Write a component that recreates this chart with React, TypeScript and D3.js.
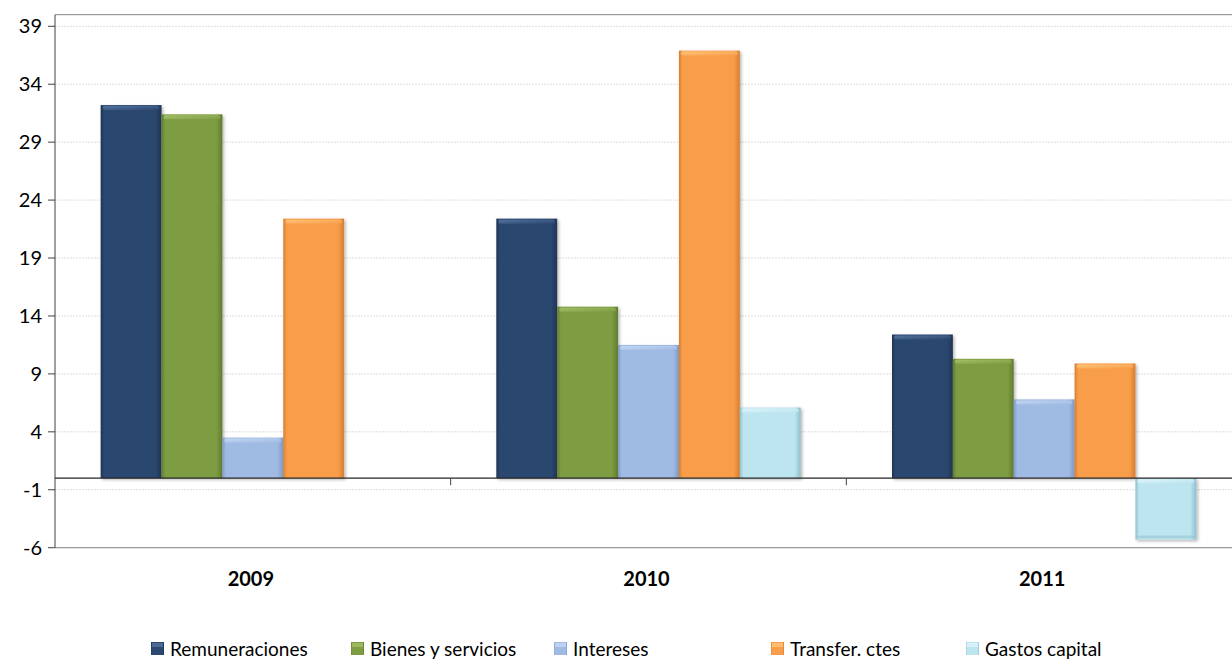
import * as d3 from "d3";
import React from "react";

const years = ["2009", "2010", "2011"];
const seriesNames = ["Remuneraciones", "Bienes y servicios", "Intereses", "Transfer. ctes", "Gastos capital"];
const remuneraciones = [32.2, 22.4, 12.4];
const bienes = [31.4, 14.8, 10.3];
const intereses = [3.5, 11.5, 6.8];
const transfer = [22.4, 36.9, 9.9];
const gastosCapital = [0, 6.1, -5.3];
const yTicks = [-6, -1, 4, 9, 14, 19, 24, 29, 34, 39];

const colors = ["#2C4770", "#7E9C42", "#A0BBE3", "#F89D4A", "#BCE5F0"];
const darks = ["#1F3553", "#627B30", "#7F9AC4", "#D67E30", "#8FBFCB"];
const lights = ["#5A7BA6", "#A9C66E", "#C9DBF5", "#FFCB80", "#E4F7FC"];

const W = 1232;
const H = 660;
const margin = { left: 55, top: 14.7, right: -10, bottom: 112.3 };

const App = () => {
  const allSeries = [remuneraciones, bienes, intereses, transfer, gastosCapital];
  const plotRight = W - margin.right;
  const plotBottom = H - margin.bottom;

  const y = d3.scaleLinear().domain([-6, 40]).range([plotBottom, margin.top]);
  const x0 = d3.scaleBand().domain(years).range([margin.left, plotRight]).paddingInner(0).paddingOuter(0);
  const groupW = (x0.bandwidth() * 5) / 6.5;
  const x1 = d3
    .scaleBand()
    .domain(seriesNames)
    .range([0, groupW]);
  const font = "Lato, 'Open Sans', sans-serif";

  const legendX = [151, 351, 554, 771, 966];

  return (
    <svg width={W} height={H} style={{ position: "absolute", left: 0, top: 0 }} fontFamily={font}>
      <defs>
        {colors.map((c, i) => (
          <linearGradient key={i} id={`g${i}`} x1="0" x2="1" y1="0" y2="0">
            <stop offset="0%" stopColor={darks[i]} />
            <stop offset="6%" stopColor={c} />
            <stop offset="90%" stopColor={c} />
            <stop offset="100%" stopColor={darks[i]} />
          </linearGradient>
        ))}
        {colors.map((c, i) => (
          <linearGradient key={"l" + i} id={`lg${i}`} x1="0" x2="1" y1="0" y2="1">
            <stop offset="0%" stopColor={lights[i]} />
            <stop offset="100%" stopColor={c} />
          </linearGradient>
        ))}
        <filter id="shadow" x="-10%" y="-10%" width="130%" height="130%">
          <feDropShadow dx="1.5" dy="1.5" stdDeviation="1.5" floodColor="#000" floodOpacity="0.3" />
        </filter>
      </defs>

      {/* gridlines */}
      {yTicks.map((t) => (
        <line
          key={t}
          x1={margin.left}
          x2={plotRight}
          y1={y(t)}
          y2={y(t)}
          stroke="#DDDDDD"
          strokeDasharray="2,1"
          strokeWidth={1}
        />
      ))}

      {/* plot border */}
      <line x1={margin.left} x2={plotRight} y1={margin.top} y2={margin.top} stroke="#868686" />
      <line x1={margin.left} x2={plotRight} y1={plotBottom} y2={plotBottom} stroke="#868686" />
      <line x1={margin.left} x2={margin.left} y1={margin.top} y2={plotBottom} stroke="#404040" />

      {/* y ticks */}
      {yTicks.map((t) => (
        <g key={"t" + t}>
          <line x1={margin.left - 7} x2={margin.left} y1={y(t)} y2={y(t)} stroke="#404040" />
          <text x={margin.left - 13} y={y(t)} dy="0.36em" textAnchor="end" fontSize={20} fill="#000">
            {t}
          </text>
        </g>
      ))}

      {/* bars */}
      {years.map((yr, gi) => (
        <g key={yr} transform={`translate(${x0(yr)! + (x0.bandwidth() - groupW) / 2},0)`}>
          {allSeries.map((vals, si) => {
            const v = vals[gi];
            if (v === 0) return null;
            const bx = x1(seriesNames[si])!;
            const bw = x1.bandwidth();
            const top = y(Math.max(0, v));
            const h = Math.abs(y(v) - y(0));
            return (
              <g key={si}>
                <rect x={bx} y={top} width={bw} height={h} fill={`url(#g${si})`} filter="url(#shadow)" />
                <rect x={bx + 2} y={top + 1} width={bw - 4} height={4} rx={2} fill={`url(#lg${si})`} opacity={0.85} />
                {v < 0 && (
                  <rect x={bx + 2} y={top + h - 4} width={bw - 4} height={3} rx={1.5} fill={darks[si]} opacity={0.5} />
                )}
              </g>
            );
          })}
        </g>
      ))}

      {/* zero line */}
      <line x1={margin.left} x2={plotRight} y1={y(0)} y2={y(0)} stroke="#262626" strokeWidth={1.3} />
      {years.slice(1).map((yr) => (
        <line key={yr} x1={x0(yr)} x2={x0(yr)} y1={y(0)} y2={y(0) + 7} stroke="#404040" />
      ))}

      {/* category labels */}
      {years.map((yr) => (
        <text
          key={"c" + yr}
          x={x0(yr)! + x0.bandwidth() / 2 - 2}
          y={plotBottom + 38}
          textAnchor="middle"
          fontSize={20}
          fontWeight="bold"
          fill="#000"
        >
          {yr}
        </text>
      ))}

      {/* legend */}
      {seriesNames.map((n, i) => (
        <g key={n} transform={`translate(${legendX[i]},642)`}>
          <rect x={0} y={0} width={13} height={13} fill={`url(#g${i})`} />
          <rect x={1} y={1} width={11} height={4} fill={lights[i]} opacity={0.7} />
          <text x={19} y={14} fontSize={19} fill="#000">
            {n}
          </text>
        </g>
      ))}
    </svg>
  );
};

export default App;
